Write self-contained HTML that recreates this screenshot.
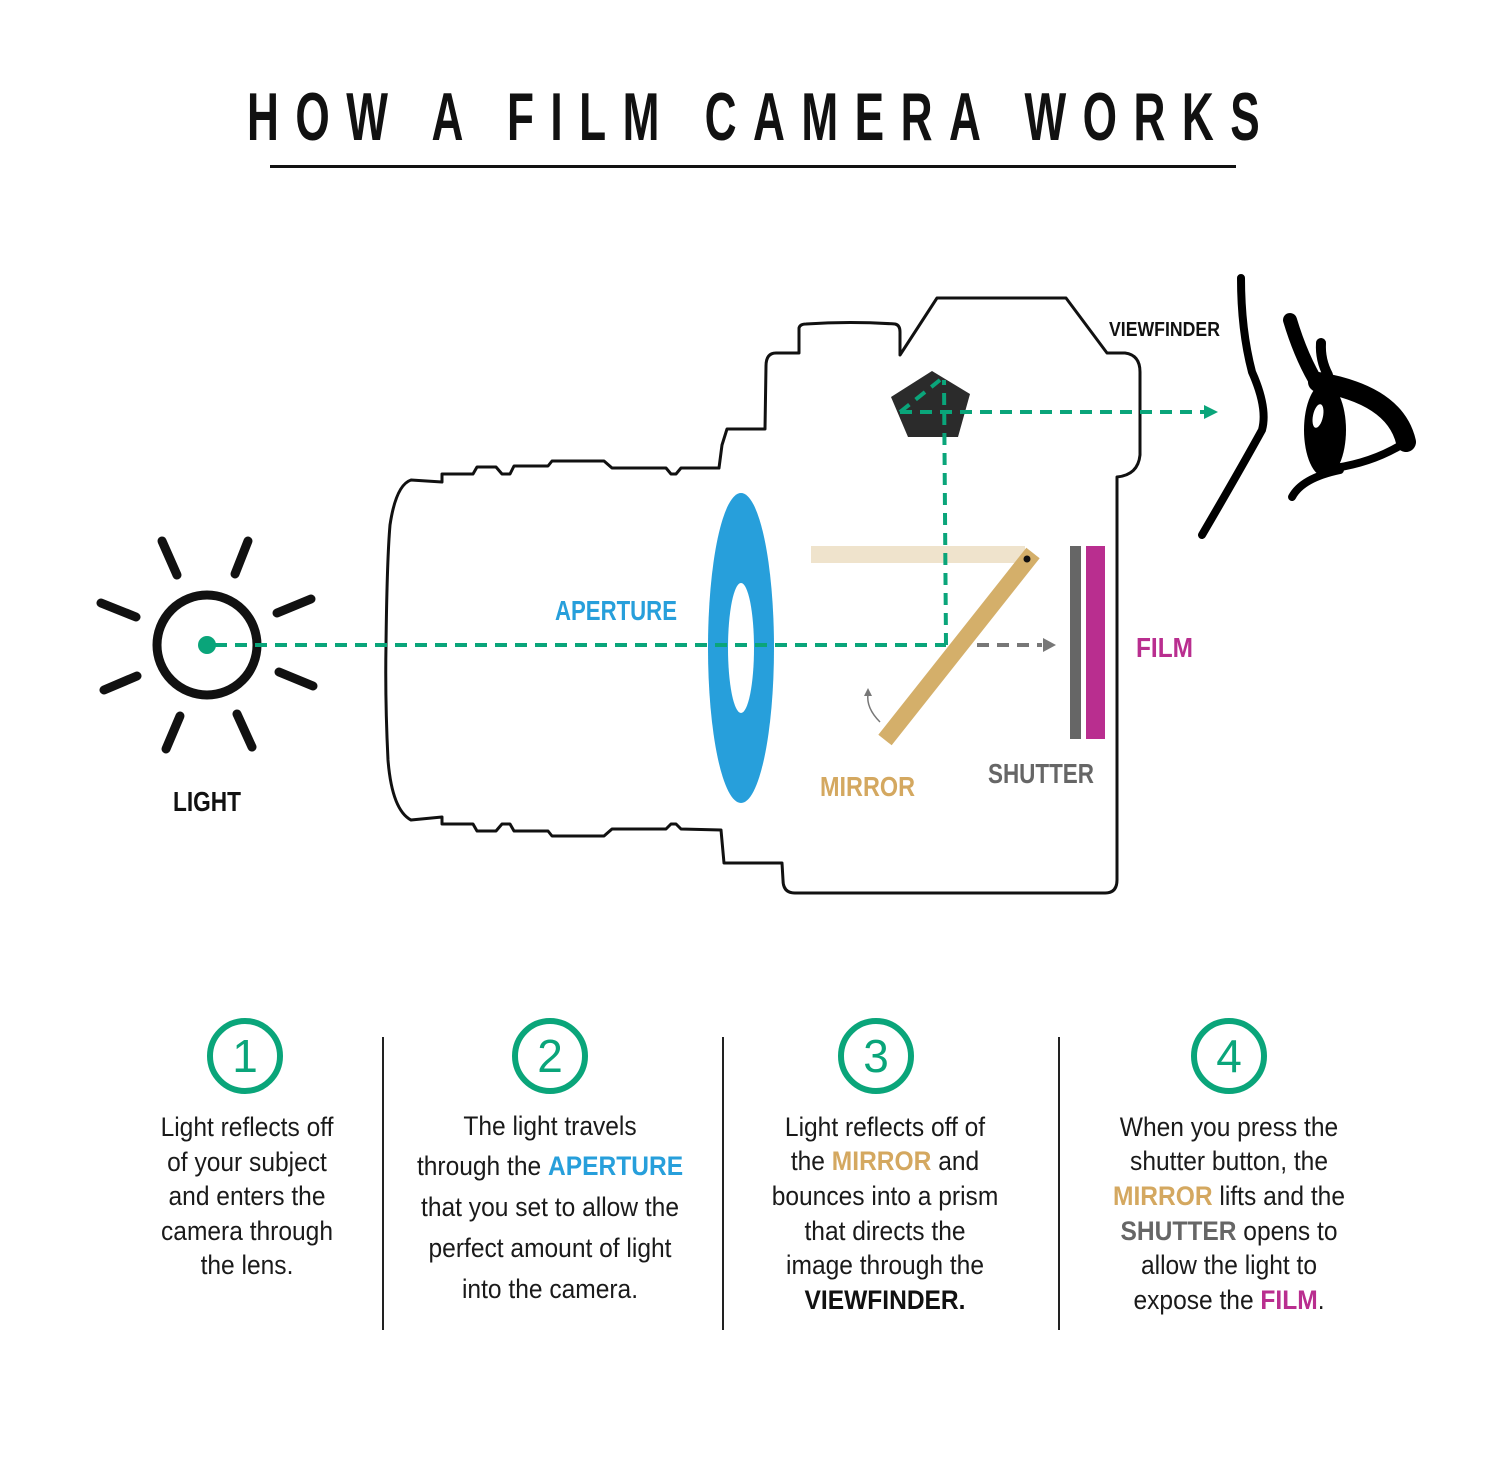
<!DOCTYPE html>
<html><head><meta charset="utf-8"><style>
html,body{margin:0;padding:0;background:#fff;}
svg{display:block;}
.b{font-family:"Liberation Sans",sans-serif;font-weight:bold;}
.t{font-family:"Liberation Sans",sans-serif;font-size:27px;fill:#1a1a1a;}
</style></head><body>
<svg width="1500" height="1458" viewBox="0 0 1500 1458" xmlns="http://www.w3.org/2000/svg">
<rect width="1500" height="1458" fill="#fff"/>
<!-- Title -->
<g transform="translate(247,0) scale(0.65,1)">
<text class="b" x="0" y="140" font-size="68" textLength="1558" lengthAdjust="spacing" fill="#111">HOW A FILM CAMERA WORKS</text>
</g>
<rect x="270" y="165" width="966" height="3" fill="#111"/>

<!-- Sun -->
<g stroke="#111" stroke-width="9" stroke-linecap="round" fill="none">
<circle cx="207" cy="645" r="50"/>
<line x1="162" y1="541" x2="177" y2="575"/>
<line x1="248" y1="541" x2="235" y2="574"/>
<line x1="101" y1="603" x2="136" y2="617"/>
<line x1="104" y1="690" x2="137" y2="676"/>
<line x1="277" y1="613" x2="311" y2="599"/>
<line x1="279" y1="672" x2="313" y2="686"/>
<line x1="166" y1="749" x2="180" y2="716"/>
<line x1="252" y1="747" x2="237" y2="714"/>
</g>
<text class="b" x="173" y="811" font-size="28" textLength="68" lengthAdjust="spacingAndGlyphs" fill="#111">LIGHT</text>

<!-- Camera outline -->
<path d="M411,480 L442,482 L442,474 L473,474 L477,467 L496,467 L502,474 L510,474 L514,466 L548,466 L552,461 L604,461 L612,468 L666,468 L671,474 L676,474 L681,468 L719,468 L722,445 L727,429 L765,429 L766,366 Q766,353 776,353 L799,353 L799,328 Q800,324 806,324 Q850,321 895,324 Q900,325 900,332 L900,355 L937,298 L1066,298 L1107,353 L1125,353 Q1140,355 1140,372 L1140,455 Q1138,475 1117,477 L1117,880 Q1117,893 1105,893 L795,893 Q783,893 783,880 L782,863 L724,863 L721,830 L681,829 L676,824 L671,824 L666,829 L612,829 L604,836 L552,836 L548,831 L514,831 L510,824 L502,824 L496,831 L477,831 L473,824 L442,824 L442,817 L411,820 Q392,810 388,760 Q385,700 386,645 Q387,560 390,525 Q396,485 411,480 Z" fill="none" stroke="#111" stroke-width="3" stroke-linejoin="round"/>

<!-- Aperture -->
<ellipse cx="741" cy="648" rx="33" ry="155" fill="#279fdb"/>
<ellipse cx="741" cy="648" rx="13" ry="65" fill="#fff"/>
<text class="b" x="555" y="620" font-size="28" textLength="122" lengthAdjust="spacingAndGlyphs" fill="#279fdb">APERTURE</text>

<!-- Mirror -->
<rect x="811" y="546" width="214" height="17" fill="#efe3cc"/>
<line x1="1033" y1="553" x2="885" y2="740" stroke="#d4af6a" stroke-width="17"/>
<circle cx="1027" cy="559" r="3.5" fill="#111"/>
<path d="M880,722 Q866,708 868,694" fill="none" stroke="#777" stroke-width="1.5"/>
<polygon points="864,696 868,688 872,696" fill="#777"/>

<!-- Pentagon -->
<polygon points="932,371 970,394 958,437 908,437 891,397" fill="#2b2b2b"/>

<!-- Green dashed paths -->
<g stroke="#0aa57a" stroke-width="4" fill="none" stroke-dasharray="12 8">
<line x1="215" y1="645" x2="946" y2="645"/>
<line x1="946" y1="645" x2="944" y2="380"/>
<line x1="900" y1="412" x2="940" y2="380"/>
<line x1="900" y1="412" x2="1206" y2="412"/>
</g>
<polygon points="1204,405 1218,412 1204,419" fill="#0aa57a"/>
<circle cx="207" cy="645" r="9" fill="#0aa57a"/>

<!-- Grey dashed -->
<line x1="977" y1="645" x2="1042" y2="645" stroke="#777" stroke-width="4" stroke-dasharray="12 8"/>
<polygon points="1043,638 1056,645 1043,652" fill="#777"/>

<!-- Shutter & Film -->
<rect x="1070" y="546" width="11" height="193" fill="#666"/>
<rect x="1086" y="546" width="19" height="193" fill="#b92e8f"/>

<text class="b" x="820" y="796" font-size="28" textLength="95" lengthAdjust="spacingAndGlyphs" fill="#d4a860">MIRROR</text>
<text class="b" x="988" y="783" font-size="28" textLength="106" lengthAdjust="spacingAndGlyphs" fill="#666">SHUTTER</text>
<text class="b" x="1136" y="657" font-size="28" textLength="57" lengthAdjust="spacingAndGlyphs" fill="#b92e8f">FILM</text>
<text class="b" x="1109" y="336" font-size="20" textLength="111" lengthAdjust="spacingAndGlyphs" fill="#111">VIEWFINDER</text>

<!-- Face/eye -->
<path d="M1241,278 Q1241,330 1252,372 Q1268,408 1262,430 Q1240,470 1202,535" fill="none" stroke="#000" stroke-width="8" stroke-linecap="round"/>
<path d="M1290,320 Q1302,360 1320,388" fill="none" stroke="#000" stroke-width="14" stroke-linecap="round"/>
<path d="M1321,343 Q1320,360 1328,375" fill="none" stroke="#000" stroke-width="10" stroke-linecap="round"/>
<path d="M1318,382 Q1395,395 1406,442" fill="none" stroke="#000" stroke-width="20" stroke-linecap="round"/>
<path d="M1406,442 Q1375,462 1335,468" fill="none" stroke="#000" stroke-width="8" stroke-linecap="round"/>
<ellipse cx="1325" cy="430" rx="21" ry="47" fill="#000"/>
<ellipse cx="1318" cy="416" rx="5" ry="12" fill="#fff" transform="rotate(12 1318 416)"/>
<path d="M1292,497 Q1302,478 1340,470" fill="none" stroke="#000" stroke-width="8" stroke-linecap="round"/>

<!-- Bottom dividers -->
<g fill="#222">
<rect x="382" y="1037" width="2" height="293"/>
<rect x="722" y="1037" width="2" height="293"/>
<rect x="1058" y="1037" width="2" height="293"/>
</g>
<g fill="none" stroke="#0aa57a" stroke-width="6">
<circle cx="245" cy="1056" r="35"/>
<circle cx="550" cy="1056" r="35"/>
<circle cx="876" cy="1056" r="35"/>
<circle cx="1229" cy="1056" r="35"/>
</g>
<g font-family="Liberation Sans,sans-serif" font-size="46" fill="#0aa57a" text-anchor="middle">
<text x="245" y="1072">1</text>
<text x="550" y="1072">2</text>
<text x="876" y="1072">3</text>
<text x="1229" y="1072">4</text>
</g>

<!-- Column texts -->
<g transform="translate(247,0) scale(0.91,1)" class="t" text-anchor="middle">
<text x="0" y="1136">Light reflects off</text>
<text x="0" y="1171">of your subject</text>
<text x="0" y="1205">and enters the</text>
<text x="0" y="1240">camera through</text>
<text x="0" y="1274">the lens.</text>
</g>
<g transform="translate(550,0) scale(0.91,1)" class="t" text-anchor="middle">
<text x="0" y="1135">The light travels</text>
<text x="0" y="1175">through the <tspan font-weight="bold" fill="#279fdb">APERTURE</tspan></text>
<text x="0" y="1216">that you set to allow the</text>
<text x="0" y="1257">perfect amount of light</text>
<text x="0" y="1298">into the camera.</text>
</g>
<g transform="translate(885,0) scale(0.91,1)" class="t" text-anchor="middle">
<text x="0" y="1136">Light reflects off of</text>
<text x="0" y="1170">the <tspan font-weight="bold" fill="#d4a860">MIRROR</tspan> and</text>
<text x="0" y="1205">bounces into a prism</text>
<text x="0" y="1240">that directs the</text>
<text x="0" y="1274">image through the</text>
<text x="0" y="1309" font-weight="bold" fill="#111">VIEWFINDER.</text>
</g>
<g transform="translate(1229,0) scale(0.91,1)" class="t" text-anchor="middle">
<text x="0" y="1136">When you press the</text>
<text x="0" y="1170">shutter button, the</text>
<text x="0" y="1205"><tspan font-weight="bold" fill="#d4a860">MIRROR</tspan> lifts and the</text>
<text x="0" y="1240"><tspan font-weight="bold" fill="#666">SHUTTER</tspan> opens to</text>
<text x="0" y="1274">allow the light to</text>
<text x="0" y="1309">expose the <tspan font-weight="bold" fill="#b92e8f">FILM</tspan>.</text>
</g>
</svg>
</body></html>
